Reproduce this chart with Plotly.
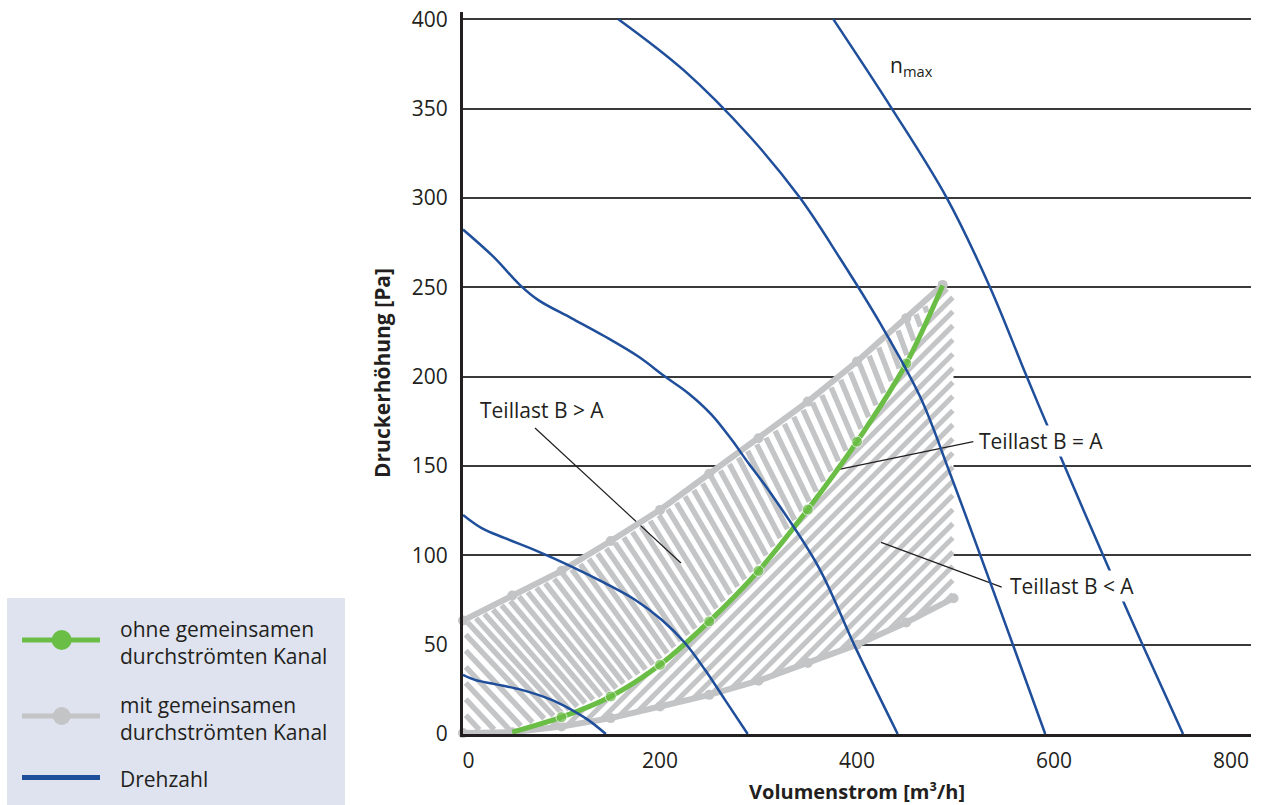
import numpy as np
import plotly.graph_objects as go

# ---------------- data ----------------
x_ticks = [0, 200, 400, 600, 800]
x_tick_text = ["\u00a0\u00a00", "200", "400", "600", ""]
x_last_tick_label = "800"
y_ticks = [0, 50, 100, 150, 200, 250, 300, 350, 400]
x_title = "<b>Volumenstrom [m³/h]</b>"
y_title = "<b>Druckerhöhung [Pa]</b>"

# "mit gemeinsamen durchströmten Kanal" – upper and lower limit curves
mit_upper_x = [0, 50, 100, 150, 200, 250, 300, 350, 400, 450, 487]
mit_upper_y = [63.5, 77.5, 91.3, 108, 125.4, 145.6, 165.5, 186, 208.4, 232.7, 251.3]
mit_lower_x = [0, 50, 100, 150, 200, 250, 300, 350, 400, 450, 498]
mit_lower_y = [0.5, 1, 4.2, 8.9, 15.4, 21.9, 29.8, 39.7, 50, 62.4, 76]

# "ohne gemeinsamen durchströmten Kanal"
ohne_x = [50, 100, 150, 200, 250, 300, 350, 400, 450, 487]
ohne_y = [1, 9.4, 21, 38.7, 63, 91.3, 125.6, 163.6, 207.3, 251]
ohne_has_dot = [0, 1, 1, 1, 1, 1, 1, 1, 1, 0]

# limits of the "Teillast B < A" area
teillast_right_x = 498
teillast_top_y = 247.6

# Drehzahl curves
drehzahl_1_x = [0, 12, 32.5, 59.6, 90, 107, 127, 145]
drehzahl_1_y = [33.1, 30.3, 27.9, 24.7, 19.1, 14.5, 7.9, 0]
drehzahl_2_x = [0, 19, 42.6, 76.5, 110.3, 144.2, 174.6, 201.7, 225.4, 245.7, 266, 289]
drehzahl_2_y = [122.6, 115.2, 109.6, 102.1, 93.7, 84.4, 75.1, 63.9, 50.9, 35.9, 19.1, 0]
drehzahl_3_x = [0, 30.8, 57.9, 76.5, 110.4, 144.2, 178, 205.1, 228.7, 252.5, 272.8, 289.7,
                310, 360.7, 398, 441.3]
drehzahl_3_y = [282.3, 267.1, 251.2, 242.8, 232.6, 222.4, 211.2, 200, 190.7, 178.6, 164.6,
                151.6, 136.6, 93.7, 48.9, 0]
drehzahl_4_x = [157.7, 223.7, 291.4, 342.1, 382.7, 423.4, 464, 494.4, 591.1]
drehzahl_4_y = [400, 371.6, 334.2, 300, 266.2, 229.9, 188.8, 145.9, 0]
drehzahl_5_x = [375.9, 435.2, 491.1, 535, 572.3, 609.4, 656.9, 690.7, 731]
drehzahl_5_y = [400, 350.1, 300, 250, 200, 151.6, 91, 49, 0]

# annotation labels: text, label position, leader start, leader end (data units)
label_texts = ["Teillast B > A", "Teillast B = A", "Teillast B < A"]
label_pos = [(80.7, 181.3), (587.3, 164.0), (617.8, 82.8)]
leader_from = [(73.1, 171.2), (518.1, 163.6), (546.9, 82.2)]
leader_to = [(221.3, 95.7), (379.4, 147.8), (424.4, 107.2)]
nmax_pos = (431.5, 374.0)

# ---------------- layout constants ----------------
W, H = 1268, 805
M_L, M_R, M_T, M_B = 463, 17, 12, 71
X_RANGE = [0, 800]
Y_RANGE = [0, 404]
PW = W - M_L - M_R
PH = H - M_T - M_B
SX = PW / (X_RANGE[1] - X_RANGE[0])
SY = PH / (Y_RANGE[1] - Y_RANGE[0])

TEXT = "#231f20"
GREEN = "#6abd45"
GREY = "#c3c4c6"
HATCH = "#c4c5c7"
BLUE = "#1f4e9b"
FONT = "Open Sans"


def hatch_segments(poly_x, poly_y, angle_at, spacing_px, inset_px, ref_y, u_lo, u_hi):
    """Hatch lines (in data units) clipped to a polygon, computed in screen-scaled space."""
    U = (np.asarray(poly_x, float) - X_RANGE[0]) * SX
    V = (np.asarray(poly_y, float) - Y_RANGE[0]) * SY
    poly = np.column_stack([U, V])
    n = len(poly)
    v_ref = (ref_y - Y_RANGE[0]) * SY
    xs, ys = [], []
    u = u_lo
    while u < u_hi:
        th = np.radians(angle_at(u))
        d = np.array([np.cos(th), np.sin(th)])
        p = np.array([u, v_ref])
        ts = []
        for i in range(n):
            a = poly[i]
            e = poly[(i + 1) % n] - a
            det = e[0] * d[1] - d[0] * e[1]
            if abs(det) < 1e-9:
                continue
            r = a - p
            t = (e[0] * r[1] - r[0] * e[1]) / det
            s = (d[0] * r[1] - d[1] * r[0]) / det
            if 0 <= s < 1:
                ts.append(t)
        ts.sort()
        for k in range(0, len(ts) - 1, 2):
            t0, t1 = ts[k] + inset_px, ts[k + 1] - inset_px
            if t1 - t0 > 1:
                for t in (t0, t1):
                    q = p + t * d
                    xs.append(q[0] / SX + X_RANGE[0])
                    ys.append(q[1] / SY + Y_RANGE[0])
                xs.append(None)
                ys.append(None)
        u += spacing_px / abs(np.sin(th))
    return xs, ys


# polygon "Teillast B > A": upper curve -> ohne curve (back) -> lower curve (back to 0)
n_low_left = sum(1 for v in mit_lower_x if v <= ohne_x[0])
gt_x = list(mit_upper_x) + list(ohne_x[::-1]) + list(mit_lower_x[:n_low_left][::-1][1:])
gt_y = list(mit_upper_y) + list(ohne_y[::-1]) + list(mit_lower_y[:n_low_left][::-1][1:])

# polygon "Teillast B < A": ohne curve -> top/right limit -> lower curve (back)
lt_x = list(ohne_x) + [teillast_right_x] + [v for v in mit_lower_x[::-1] if v >= ohne_x[0]]
lt_y = list(ohne_y) + [teillast_top_y] + [mit_lower_y[i] for i in range(len(mit_lower_x) - 1, -1, -1)
                                          if mit_lower_x[i] >= ohne_x[0]]


def fan_angle(u):
    f = np.clip((u + 150.0) / 640.0, 0.0, 1.0)
    return -(47.0 + 23.0 * f)


def diag_angle(u):
    return 45.0


hx, hy = hatch_segments(gt_x, gt_y, fan_angle, 11.0, 4.0, 150, -350, 700)
dx, dy = hatch_segments(lt_x, lt_y, diag_angle, 10.0, 1.0, 150, -400, 800)

fig = go.Figure()

# white backgrounds of the hatched areas (hide grid lines)
for px_, py_ in ((gt_x, gt_y), (lt_x, lt_y)):
    fig.add_trace(go.Scatter(x=px_, y=py_, mode="lines", fill="toself", fillcolor="white",
                             line=dict(width=0), hoverinfo="skip"))
# hatches
fig.add_trace(go.Scatter(x=dx, y=dy, mode="lines", line=dict(color=HATCH, width=5),
                         hoverinfo="skip"))
fig.add_trace(go.Scatter(x=hx, y=hy, mode="lines", line=dict(color=HATCH, width=5.5),
                         hoverinfo="skip"))

# leader lines
for (x0, y0), (x1, y1) in zip(leader_from, leader_to):
    fig.add_trace(go.Scatter(x=[x0, x1], y=[y0, y1], mode="lines",
                             line=dict(color=TEXT, width=1.2), hoverinfo="skip"))

# grey curves
for xs, ys in ((mit_lower_x, mit_lower_y), (mit_upper_x, mit_upper_y)):
    fig.add_trace(go.Scatter(x=xs, y=ys, mode="lines+markers", cliponaxis=False,
                             line=dict(color=GREY, width=6),
                             marker=dict(color=GREY, size=10),
                             name="mit gemeinsamen durchströmten Kanal"))
# green curve
fig.add_trace(go.Scatter(x=ohne_x, y=ohne_y, mode="lines+markers",
                         line=dict(color=GREEN, width=5, shape="spline", smoothing=0.8),
                         marker=dict(color=GREEN, size=[11 * v for v in ohne_has_dot]),
                         name="ohne gemeinsamen durchströmten Kanal"))
# Drehzahl curves
for xs, ys in ((drehzahl_1_x, drehzahl_1_y), (drehzahl_2_x, drehzahl_2_y),
               (drehzahl_3_x, drehzahl_3_y), (drehzahl_4_x, drehzahl_4_y),
               (drehzahl_5_x, drehzahl_5_y)):
    fig.add_trace(go.Scatter(x=xs, y=ys, mode="lines",
                             line=dict(color=BLUE, width=2.5, shape="spline", smoothing=1.0),
                             name="Drehzahl"))

annotations = []
for txt, (ax_, ay_) in zip(label_texts, label_pos):
    annotations.append(dict(x=ax_, y=ay_, xref="x", yref="y", text=txt, showarrow=False,
                            font=dict(family=FONT, size=21, color=TEXT),
                            bgcolor="white", borderpad=1))
annotations.append(dict(x=nmax_pos[0], y=nmax_pos[1], xref="x", yref="y",
                        text="n<sub>max</sub>", showarrow=False, xanchor="left",
                        font=dict(family=FONT, size=21, color=TEXT)))
# last x tick label, kept inside the picture
annotations.append(dict(x=x_ticks[-1], y=Y_RANGE[0], xref="x", yref="y", text=x_last_tick_label,
                        showarrow=False, xanchor="right", yanchor="middle", yshift=-26,
                        font=dict(family=FONT, size=21, color=TEXT)))


# ---------------- manual legend (paper coordinates from pixel positions) ----------------
def pxp(px, py):
    return (px - M_L) / PW, (H - M_B - py) / PH


# x axis title, as low as possible while staying inside the picture
_, xt_y = pxp(0, 791.5)
annotations.append(dict(x=0.5, y=xt_y, xref="paper", yref="paper", text=x_title,
                        showarrow=False, xanchor="center", yanchor="middle",
                        font=dict(family=FONT, size=20, color=TEXT)))

shapes = []
bx0, by0 = pxp(7, 810)
bx1, by1 = pxp(345, 598)
shapes.append(dict(type="rect", xref="paper", yref="paper", x0=bx0, y0=by0, x1=bx1, y1=by1,
                   fillcolor="#dfe3ef", line=dict(width=0), layer="below"))
legend_items = [
    (GREEN, 640, 10, "ohne gemeinsamen<br>durchströmten Kanal"),
    (GREY, 716, 9, "mit gemeinsamen<br>durchströmten Kanal"),
    (BLUE, 777.5, 0, "Drehzahl"),
]
for col, py, r, txt in legend_items:
    lx0, ly = pxp(22, py)
    lx1, _ = pxp(100, py)
    shapes.append(dict(type="line", xref="paper", yref="paper", x0=lx0, x1=lx1, y0=ly, y1=ly,
                       line=dict(color=col, width=5)))
    if r:
        cx0, cy0 = pxp(61.7 - r, py + r)
        cx1, cy1 = pxp(61.7 + r, py - r)
        shapes.append(dict(type="circle", xref="paper", yref="paper", x0=cx0, x1=cx1,
                           y0=cy0, y1=cy1, fillcolor=col, line=dict(width=0)))
    tx, ty = pxp(118, py + 2)
    annotations.append(dict(x=tx, y=ty, xref="paper", yref="paper", text=txt, showarrow=False,
                            xanchor="left", yanchor="middle", align="left",
                            font=dict(family=FONT, size=21, color=TEXT)))

fig.update_layout(
    width=W, height=H,
    margin=dict(l=M_L, r=M_R, t=M_T, b=M_B, autoexpand=False),
    paper_bgcolor="white", plot_bgcolor="white", showlegend=False,
    font=dict(family=FONT, size=21, color=TEXT),
    xaxis=dict(range=X_RANGE, tickmode="array", tickvals=x_ticks, ticktext=x_tick_text,
               showgrid=False, zeroline=False, showline=True, linecolor=TEXT, linewidth=3,
               ticks="", ticklabelstandoff=6, tickfont=dict(size=21)),
    yaxis=dict(range=Y_RANGE, tickmode="array", tickvals=y_ticks,
               showgrid=True, gridcolor="#3a3a3a", gridwidth=1.5, zeroline=False,
               showline=True, linecolor=TEXT, linewidth=3, ticks="", ticklabelstandoff=8,
               tickfont=dict(size=21),
               title=dict(text=y_title, standoff=16, font=dict(size=21))),
    shapes=shapes,
    annotations=annotations,
)

fig.write_html("out.html", config={"displayModeBar": False},
               post_script="document.body.style.margin='0px';")
